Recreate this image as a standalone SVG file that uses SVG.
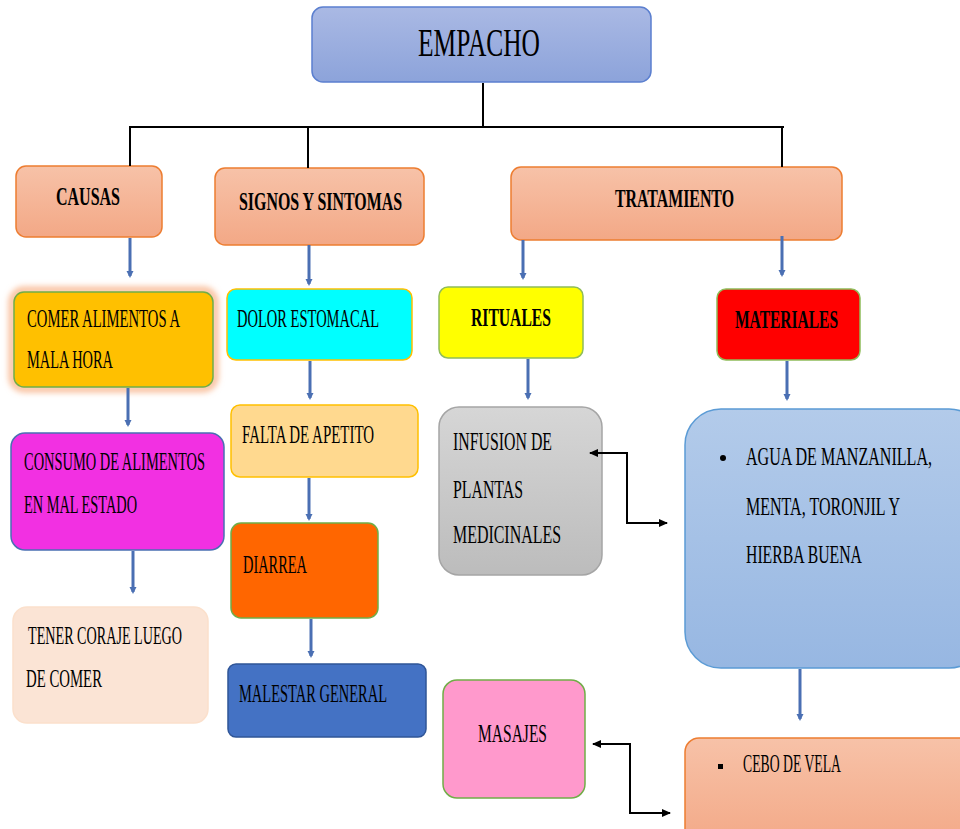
<svg xmlns="http://www.w3.org/2000/svg" width="960" height="829" viewBox="0 0 960 829">
<style>
text{font-family:"Liberation Serif","Times New Roman",serif;fill:#000}
.t{font-size:25px}
.b{font-size:26px;font-weight:bold}
.tree{fill:none;stroke:#000;stroke-width:2}
.ar{fill:none;stroke:#4a6fb3;stroke-width:3;marker-end:url(#ba)}
.dbl{fill:none;stroke:#000;stroke-width:2;marker-start:url(#ka);marker-end:url(#ka)}
</style>
<defs>
<linearGradient id="gPeach" x1="0" y1="0" x2="0" y2="1"><stop offset="0" stop-color="#f7c2a8"/><stop offset="1" stop-color="#f3a886"/></linearGradient>
<linearGradient id="gTop" x1="0" y1="0" x2="0" y2="1"><stop offset="0" stop-color="#aab9e4"/><stop offset="1" stop-color="#8ca3da"/></linearGradient>
<linearGradient id="gGrey" x1="0" y1="0" x2="0" y2="1"><stop offset="0" stop-color="#d6d6d6"/><stop offset="1" stop-color="#bcbcbc"/></linearGradient>
<linearGradient id="gBlue" x1="0" y1="0" x2="0" y2="1"><stop offset="0" stop-color="#b3cbea"/><stop offset="1" stop-color="#97b7e2"/></linearGradient>
<filter id="glow" x="-20%" y="-20%" width="140%" height="140%"><feGaussianBlur stdDeviation="3"/></filter>
<marker id="ba" markerUnits="userSpaceOnUse" markerWidth="10" markerHeight="10" refX="5" refY="5" orient="auto"><path d="M0,1.5 L7,5 L0,8.5 Z" fill="#4a6fb3"/></marker>
<marker id="ka" markerUnits="userSpaceOnUse" markerWidth="12" markerHeight="12" refX="8" refY="6" orient="auto-start-reverse"><path d="M0,2 L9,6 L0,10 Z" fill="#000"/></marker>
</defs>

<g id="empacho">
<rect x="312" y="7" width="339" height="75" rx="11" fill="url(#gTop)" stroke="#5b7fcf" stroke-width="1.5"/>
<text transform="translate(418,56) scale(0.6,1)" style="font-size:40px" textLength="203.3" lengthAdjust="spacingAndGlyphs">EMPACHO</text>
</g>

<g id="causas">
<rect x="16" y="166" width="146" height="71" rx="10" fill="url(#gPeach)" stroke="#ed7d31" stroke-width="1.5"/>
<text class="b" transform="translate(56,205) scale(0.6,1)" textLength="106.7" lengthAdjust="spacingAndGlyphs">CAUSAS</text>
</g>

<g id="signos">
<rect x="215" y="168" width="209" height="77" rx="10" fill="url(#gPeach)" stroke="#ed7d31" stroke-width="1.5"/>
<text class="b" transform="translate(239,210) scale(0.6,1)" textLength="271.7" lengthAdjust="spacingAndGlyphs">SIGNOS Y SINTOMAS</text>
</g>

<g id="tratamiento">
<rect x="511" y="167" width="331" height="73" rx="10" fill="url(#gPeach)" stroke="#ed7d31" stroke-width="1.5"/>
<text class="b" transform="translate(615,207) scale(0.6,1)" textLength="198.3" lengthAdjust="spacingAndGlyphs">TRATAMIENTO</text>
</g>

<g id="comer">
<rect x="12" y="290" width="203" height="99" rx="12" fill="none" stroke="#f8b48a" stroke-width="6" filter="url(#glow)"/>
<rect x="14" y="292" width="199" height="95" rx="10" fill="#ffc000" stroke="#70ad47" stroke-width="1.5"/>
<text class="t" transform="translate(27,327) scale(0.6,1)" textLength="255" lengthAdjust="spacingAndGlyphs">COMER ALIMENTOS A</text>
<text class="t" transform="translate(27,368) scale(0.6,1)" textLength="143.3" lengthAdjust="spacingAndGlyphs">MALA HORA</text>
</g>

<g id="consumo">
<rect x="11" y="433" width="213" height="117" rx="14" fill="#f230e2" stroke="#4a6fb3" stroke-width="1.5"/>
<text class="t" transform="translate(24,470) scale(0.6,1)" textLength="301.7" lengthAdjust="spacingAndGlyphs">CONSUMO DE ALIMENTOS</text>
<text class="t" transform="translate(24,513) scale(0.6,1)" textLength="188.3" lengthAdjust="spacingAndGlyphs">EN MAL ESTADO</text>
</g>

<g id="tener">
<rect x="13" y="607" width="195" height="116" rx="14" fill="#fbe4d5" stroke="#fbe0cc" stroke-width="1.5"/>
<text class="t" transform="translate(28,644) scale(0.6,1)" textLength="256.7" lengthAdjust="spacingAndGlyphs">TENER CORAJE LUEGO</text>
<text class="t" transform="translate(26,687) scale(0.6,1)" textLength="126.7" lengthAdjust="spacingAndGlyphs">DE COMER</text>
</g>

<g id="dolor">
<rect x="227" y="289" width="185" height="71" rx="9" fill="#00ffff" stroke="#ffc000" stroke-width="1.5"/>
<text class="t" transform="translate(237,327) scale(0.6,1)" textLength="236.7" lengthAdjust="spacingAndGlyphs">DOLOR ESTOMACAL</text>
</g>

<g id="falta">
<rect x="231" y="405" width="187" height="72" rx="9" fill="#ffd98f" stroke="#ffc000" stroke-width="1.5"/>
<text class="t" transform="translate(242,443) scale(0.6,1)" textLength="220" lengthAdjust="spacingAndGlyphs">FALTA DE APETITO</text>
</g>

<g id="diarrea">
<rect x="231" y="523" width="147" height="95" rx="10" fill="#ff6600" stroke="#70ad47" stroke-width="1.5"/>
<text class="t" transform="translate(243,573) scale(0.6,1)" textLength="106.7" lengthAdjust="spacingAndGlyphs">DIARREA</text>
</g>

<g id="malestar">
<rect x="228" y="664" width="198" height="73" rx="8" fill="#4472c4" stroke="#2f5597" stroke-width="1.5"/>
<text class="t" transform="translate(239,702) scale(0.6,1)" textLength="246.7" lengthAdjust="spacingAndGlyphs">MALESTAR GENERAL</text>
</g>

<g id="rituales">
<rect x="439" y="287" width="144" height="71" rx="9" fill="#ffff00" stroke="#8fbc5a" stroke-width="1.5"/>
<text class="b" transform="translate(471,326) scale(0.6,1)" textLength="133.3" lengthAdjust="spacingAndGlyphs">RITUALES</text>
</g>

<g id="materiales">
<rect x="717" y="289" width="143" height="71" rx="9" fill="#ff0000" stroke="#8fbc5a" stroke-width="1.5"/>
<text class="b" transform="translate(735,328) scale(0.6,1)" textLength="171.7" lengthAdjust="spacingAndGlyphs">MATERIALES</text>
</g>

<g id="infusion">
<rect x="439" y="407" width="163" height="168" rx="20" fill="url(#gGrey)" stroke="#a5a5a5" stroke-width="1.5"/>
<text class="t" transform="translate(453,450) scale(0.6,1)" textLength="165" lengthAdjust="spacingAndGlyphs">INFUSION DE</text>
<text class="t" transform="translate(453,498) scale(0.6,1)" textLength="116.7" lengthAdjust="spacingAndGlyphs">PLANTAS</text>
<text class="t" transform="translate(453,543) scale(0.6,1)" textLength="180" lengthAdjust="spacingAndGlyphs">MEDICINALES</text>
</g>

<g id="agua">
<rect x="685" y="409" width="300" height="259" rx="36" fill="url(#gBlue)" stroke="#5b9bd5" stroke-width="1.5"/>
<circle cx="723" cy="458" r="3" fill="#000"/>
<text class="t" transform="translate(746,465) scale(0.6,1)" textLength="310" lengthAdjust="spacingAndGlyphs">AGUA DE MANZANILLA,</text>
<text class="t" transform="translate(746,515) scale(0.6,1)" textLength="256.7" lengthAdjust="spacingAndGlyphs">MENTA, TORONJIL Y</text>
<text class="t" transform="translate(746,563) scale(0.6,1)" textLength="193.3" lengthAdjust="spacingAndGlyphs">HIERBA BUENA</text>
</g>

<g id="masajes">
<rect x="443" y="680" width="142" height="118" rx="14" fill="#ff99cc" stroke="#70ad47" stroke-width="1.5"/>
<text class="t" transform="translate(478,742) scale(0.6,1)" textLength="115" lengthAdjust="spacingAndGlyphs">MASAJES</text>
</g>

<g id="cebo">
<rect x="685" y="738" width="300" height="110" rx="14" fill="url(#gPeach)" stroke="#ed7d31" stroke-width="1.5"/>
<rect x="718" y="764" width="5" height="5" fill="#000"/>
<text class="t" transform="translate(743,772) scale(0.6,1)" textLength="163.3" lengthAdjust="spacingAndGlyphs">CEBO DE VELA</text>
</g>

<g id="connectors">
<path class="tree" d="M483,83 V127 M129,127 H784 M130,127 V166 M308,127 V168 M782,127 V167"/>
<path class="ar" d="M130,238 V276"/>
<path class="ar" d="M309,245 V284"/>
<path class="ar" d="M523,240 V278"/>
<path class="ar" d="M782,236 V275"/>
<path class="ar" d="M128,388 V425"/>
<path class="ar" d="M133,551 V592"/>
<path class="ar" d="M310,361 V398"/>
<path class="ar" d="M309,478 V519"/>
<path class="ar" d="M311,619 V656"/>
<path class="ar" d="M528,359 V398"/>
<path class="ar" d="M787,361 V399"/>
<path class="ar" d="M800,669 V719"/>
<path class="dbl" d="M590,453 H627 V523 H667"/>
<path class="dbl" d="M593,744 H630 V813 H670"/>
</g>
</svg>
